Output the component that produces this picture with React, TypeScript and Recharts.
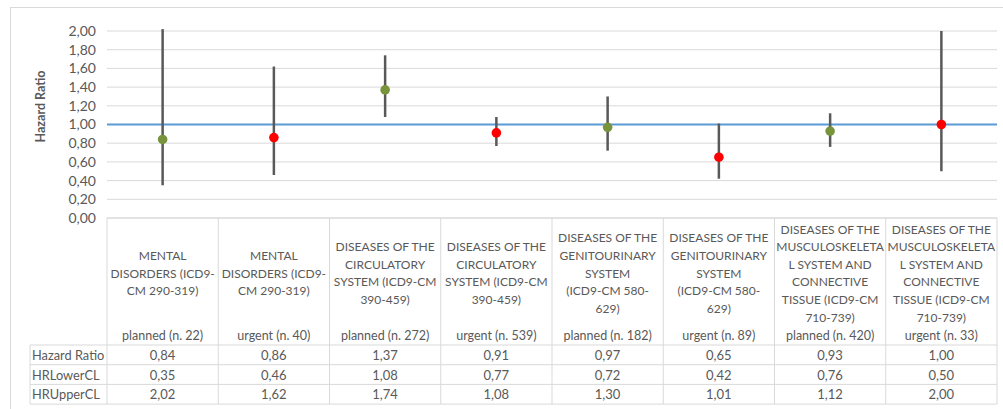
import {
  ComposedChart,
  Scatter,
  ErrorBar,
  XAxis,
  YAxis,
  CartesianGrid,
  ReferenceLine,
} from "recharts";

const categories = [
  "MENTAL\nDISORDERS (ICD9-\nCM 290-319)",
  "MENTAL\nDISORDERS (ICD9-\nCM 290-319)",
  "DISEASES OF THE\nCIRCULATORY\nSYSTEM (ICD9-CM\n390-459)",
  "DISEASES OF THE\nCIRCULATORY\nSYSTEM (ICD9-CM\n390-459)",
  "DISEASES OF THE\nGENITOURINARY\nSYSTEM\n(ICD9-CM 580-\n629)",
  "DISEASES OF THE\nGENITOURINARY\nSYSTEM\n(ICD9-CM 580-\n629)",
  "DISEASES OF THE\nMUSCULOSKELETA\nL SYSTEM AND\nCONNECTIVE\nTISSUE (ICD9-CM\n710-739)",
  "DISEASES OF THE\nMUSCULOSKELETA\nL SYSTEM AND\nCONNECTIVE\nTISSUE (ICD9-CM\n710-739)",
];
const admissions = [
  "planned (n. 22)",
  "urgent (n. 40)",
  "planned (n. 272)",
  "urgent (n. 539)",
  "planned (n. 182)",
  "urgent (n. 89)",
  "planned (n. 420)",
  "urgent (n. 33)",
];
const hazardRatio = [0.84, 0.86, 1.37, 0.91, 0.97, 0.65, 0.93, 1.0];
const hrLowerCL = [0.35, 0.46, 1.08, 0.77, 0.72, 0.42, 0.76, 0.5];
const hrUpperCL = [2.02, 1.62, 1.74, 1.08, 1.3, 1.01, 1.12, 2.0];
const yTicks = [0, 0.2, 0.4, 0.6, 0.8, 1.0, 1.2, 1.4, 1.6, 1.8, 2.0];
const rowLabels = ["Hazard Ratio", "HRLowerCL", "HRUpperCL"];
const referenceHR = 1;

// layout
const WIDTH = 1003;
const HEIGHT = 409;
const PLOT_LEFT = 107;
const PLOT_RIGHT = 997;
const COL_W = (PLOT_RIGHT - PLOT_LEFT) / categories.length;
const HEADER_H = 127;
const ROW_H = 19.7;
const LABEL_W = 77;
const LINE_H = 17.6;
const FONT = "Lato, 'Open Sans', sans-serif";
const TEXT = "#595959";
const BORDER = "#d9d9d9";

const fmt = (v: number) => v.toFixed(2).replace(".", ",");

const data = categories.map((c, i) => ({
  key: String(i),
  hr: hazardRatio[i],
  err: [hazardRatio[i] - hrLowerCL[i], hrUpperCL[i] - hazardRatio[i]],
  color: admissions[i].startsWith("planned") ? "#77933C" : "#FF0000",
}));

// each x tick draws its own column of the data table
const TableTick = (props: any) => {
  const { x, y, index } = props;
  const i = index ?? Number(props.payload?.value);
  const left = x - COL_W / 2;
  const right = x + COL_W / 2;
  const bottom = y + HEADER_H + 3 * ROW_H;
  const lines = categories[i].split("\n");
  const blockTop = y + 55 - ((lines.length - 1) * LINE_H) / 2;
  const values = [hazardRatio[i], hrLowerCL[i], hrUpperCL[i]];

  return (
    <g fontFamily={FONT} fontSize={12} fill={TEXT}>
      <line x1={left} x2={left} y1={y} y2={bottom} stroke={BORDER} />
      {i === categories.length - 1 && (
        <line x1={right} x2={right} y1={y} y2={bottom} stroke={BORDER} />
      )}
      {[0, HEADER_H, HEADER_H + ROW_H, HEADER_H + 2 * ROW_H, HEADER_H + 3 * ROW_H].map((dy) => (
        <line key={dy} x1={left} x2={right} y1={y + dy} y2={y + dy} stroke={BORDER} />
      ))}
      {lines.map((ln, k) => (
        <text key={k} x={x} y={blockTop + k * LINE_H} textAnchor="middle" dominantBaseline="central">
          {ln}
        </text>
      ))}
      <text x={x} y={y + 117} textAnchor="middle" dominantBaseline="central" fontSize={12.5}>
        {admissions[i]}
      </text>
      {values.map((v, r) => (
        <text
          key={r}
          x={x}
          y={y + HEADER_H + ROW_H * (r + 0.5)}
          textAnchor="middle"
          dominantBaseline="central"
          fontSize={13}
        >
          {fmt(v)}
        </text>
      ))}
      {i === 0 && (
        <g>
          <line x1={left - LABEL_W} x2={left - LABEL_W} y1={y + HEADER_H} y2={bottom} stroke={BORDER} />
          {[0, 1, 2, 3].map((r) => (
            <line
              key={r}
              x1={left - LABEL_W}
              x2={left}
              y1={y + HEADER_H + r * ROW_H}
              y2={y + HEADER_H + r * ROW_H}
              stroke={BORDER}
            />
          ))}
          {rowLabels.map((lab, r) => (
            <text
              key={lab}
              x={left - LABEL_W + 2}
              y={y + HEADER_H + ROW_H * (r + 0.5)}
              dominantBaseline="central"
              fontSize={12.8}
            >
              {lab}
            </text>
          ))}
        </g>
      )}
    </g>
  );
};

const AxisTitle = (props: any) => {
  const { viewBox } = props;
  const cx = 40;
  const cy = viewBox.y + viewBox.height / 2 - 18;
  return (
    <text
      x={cx}
      y={cy}
      transform={`rotate(-90, ${cx}, ${cy})`}
      textAnchor="middle"
      dominantBaseline="central"
      fontFamily={FONT}
      fontSize={12.5}
      fontWeight="bold"
      fill={TEXT}
    >
      Hazard Ratio
    </text>
  );
};

const Dot = (props: any) => {
  const { cx, cy, payload } = props;
  return <circle cx={cx} cy={cy} r={4.8} fill={payload.color} />;
};

export default function App() {
  return (
    <div style={{ position: "relative", width: WIDTH, height: HEIGHT, overflow: "hidden", background: "#fff" }}>
      <style>{"body{margin:0}"}</style>
      <div
        style={{
          position: "absolute",
          left: 10,
          top: 7,
          width: 1010,
          height: 420,
          border: `1px solid ${BORDER}`,
          boxSizing: "border-box",
        }}
      />
      <div style={{ position: "absolute", left: 0, top: 0 }}>
        <ComposedChart
          width={WIDTH}
          height={HEIGHT}
          data={data}
          margin={{ top: 31, right: WIDTH - PLOT_RIGHT, bottom: 0, left: 0 }}
        >
          <CartesianGrid vertical={false} stroke={BORDER} strokeWidth={1} />
          <XAxis
            dataKey="key"
            type="category"
            scale="band"
            height={HEIGHT - 31 - 187}
            axisLine={false}
            tickLine={false}
            tickSize={0}
            tickMargin={0}
            interval={0}
            tick={<TableTick />}
          />
          <YAxis
            width={PLOT_LEFT}
            domain={[0, 2]}
            ticks={yTicks}
            interval={0}
            allowDataOverflow
            axisLine={false}
            tickLine={false}
            tickSize={0}
            tickMargin={11}
            tickFormatter={fmt}
            tick={{ fill: TEXT, fontSize: 14, fontFamily: FONT }}
            label={<AxisTitle />}
          />
          <ReferenceLine y={referenceHR} stroke="#5B9BD5" strokeWidth={2} />
          <Scatter dataKey="hr" isAnimationActive={false} shape={<Dot />}>
            <ErrorBar dataKey="err" direction="y" width={0} stroke="#595959" strokeWidth={2.5} />
          </Scatter>
        </ComposedChart>
      </div>
    </div>
  );
}
